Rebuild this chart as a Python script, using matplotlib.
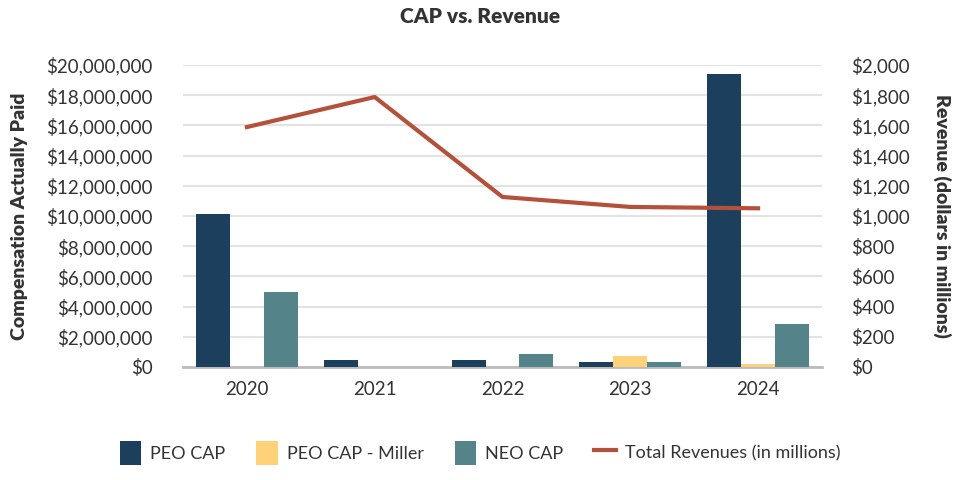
import matplotlib
matplotlib.use("Agg")
import matplotlib.pyplot as plt
import matplotlib.ticker as mticker
import numpy as np

plt.rcParams['font.family'] = ['Lato', 'DejaVu Sans']

years = ['2020', '2021', '2022', '2023', '2024']
peo_cap = [10100000, 460000, 460000, 330000, 19400000]
peo_cap_miller = [0, 0, 0, 750000, 200000]
neo_cap = [5000000, 0, 860000, 330000, 2850000]
revenue = [1589, 1788, 1126, 1060, 1051]

c_peo = '#1B3F5C'
c_miller = '#FFD27A'
c_neo = '#54838A'
c_line = '#B5503A'
txt = '#333333'

fig = plt.figure(figsize=(9.6, 4.8), dpi=100)
ax = fig.add_axes([183/960, 1 - 367/480, (822-183)/960, (367-65)/480])
ax2 = ax.twinx()

x = np.arange(len(years))
w = 0.266
b1 = ax.bar(x - w, peo_cap, w, color=c_peo, label='PEO CAP', zorder=3)
b2 = ax.bar(x, peo_cap_miller, w, color=c_miller, label='PEO CAP - Miller', zorder=3)
b3 = ax.bar(x + w, neo_cap, w, color=c_neo, label='NEO CAP', zorder=3)
ln, = ax2.plot(x, revenue, color=c_line, lw=3, label='Total Revenues (in millions)', zorder=4)

ax.set_xlim(-0.5, 4.5)
ax.set_ylim(0, 20000000)
ax.set_yticks(np.arange(0, 20000001, 2000000))
ax.yaxis.set_major_formatter(mticker.FuncFormatter(lambda v, p: '${:,.0f}'.format(v)))
ax2.set_ylim(0, 2000)
ax2.set_yticks(np.arange(0, 2001, 200))
ax2.yaxis.set_major_formatter(mticker.FuncFormatter(lambda v, p: '${:,.0f}'.format(v)))
ax.set_xticks(x)
ax.set_xticklabels(years)

ax.grid(axis='y', color='#E3E3E3', lw=1.5, zorder=0)
for a in (ax, ax2):
    for s in ['top', 'left', 'right', 'bottom']:
        a.spines[s].set_visible(False)
    a.tick_params(length=0, labelsize=13.5, labelcolor=txt)
ax.spines['bottom'].set_visible(True)
ax.spines['bottom'].set_color('#BBBBBB')
ax.spines['bottom'].set_linewidth(2)
ax.tick_params(axis='x', pad=10)
ax.tick_params(axis='y', pad=22)
ax2.tick_params(axis='y', pad=21)

ax.set_ylabel('Compensation Actually Paid', fontsize=14, fontweight='heavy', color=txt, labelpad=13)
ax2.set_ylabel('Revenue (dollars in millions)', fontsize=14, fontweight='heavy', color=txt, rotation=270, labelpad=30)
fig.suptitle('CAP vs. Revenue', y=0.985, fontsize=15, fontweight='heavy', color=txt)

fig.legend(handles=[b1, b2, b3, ln], loc='center', bbox_to_anchor=(0.5, 1 - 453/480), ncol=4,
           frameon=False, fontsize=13, handlelength=1.2, handleheight=1.6, columnspacing=1.7,
           handletextpad=0.5, labelcolor=txt)

fig.savefig('out.png', dpi=100)
